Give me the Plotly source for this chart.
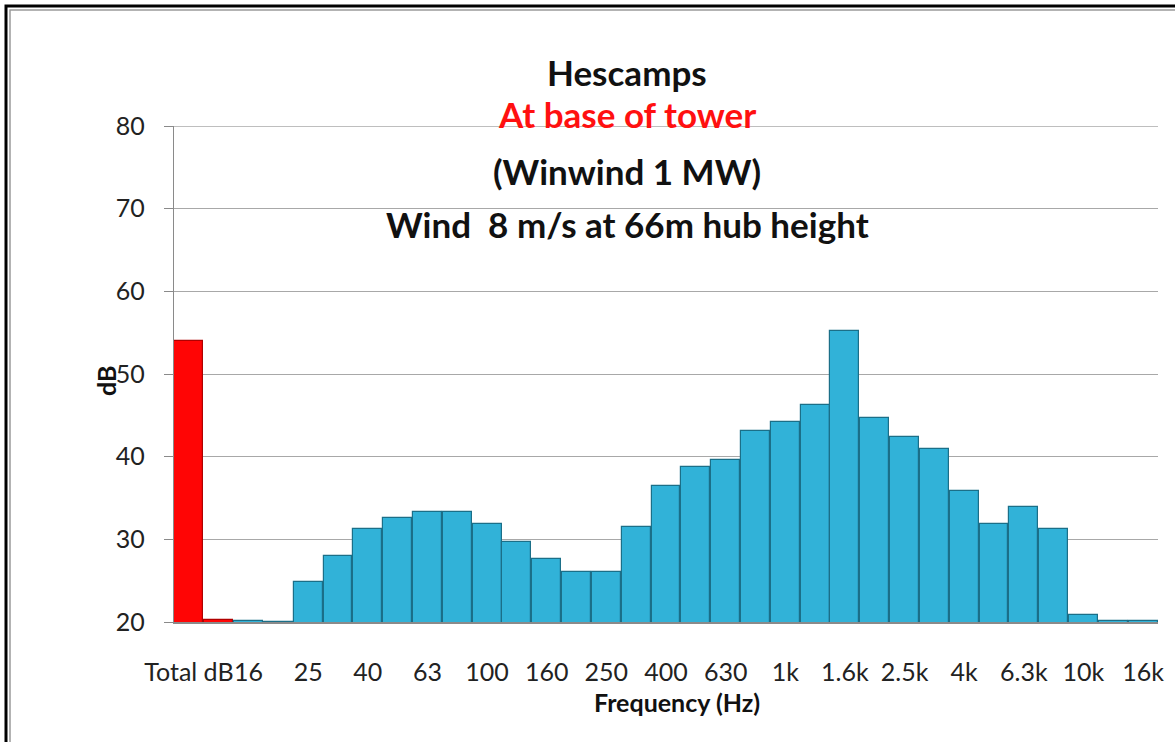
import plotly.graph_objects as go

# ---- data ----
categories = ["Total dB", "12.5", "16", "20", "25", "31.5", "40", "50", "63", "80",
              "100", "125", "160", "200", "250", "315", "400", "500", "630", "800",
              "1k", "1.25k", "1.6k", "2k", "2.5k", "3.15k", "4k", "5k", "6.3k", "8k",
              "10k", "12.5k", "16k"]
levels_db = [54.0, 20.2, 20.15, 20.0, 24.8, 28.0, 31.2, 32.6, 33.3, 33.3,
             31.85, 29.7, 27.6, 26.0, 26.0, 31.5, 36.4, 38.8, 39.6, 43.1,
             44.2, 46.25, 55.2, 44.7, 42.4, 40.9, 35.8, 31.85, 33.95, 31.2,
             20.8, 20.1, 20.1]
tick_labels = categories[::2]
title_lines = ["Hescamps", "At base of tower", "(Winwind 1 MW)", "Wind \u00a08 m/s at 66m hub height"]
x_title = "Frequency (Hz)"
y_title = "dB"
y_range = [20, 80]
y_ticks = [20, 30, 40, 50, 60, 70, 80]

# ---- styles ----
W, H = 1175, 742
L, R, T, B = 174, 1158, 126, 622   # plot area in px
pw, ph = R - L, B - T
red, red_edge = "#FF0505", "#B00000"
blue, blue_edge = "#31B2D8", "#1B6F88"
grid_color = "#A8A8A8"
bar_colors = [red if i < 2 else blue for i in range(len(categories))]
edge_colors = [red_edge if i < 2 else blue_edge for i in range(len(categories))]

def px_x(px):
    return (px - L) / pw

def px_y(py):
    return (B - py) / ph

fig = go.Figure(go.Bar(
    x=categories, y=levels_db,
    marker=dict(color=bar_colors, line=dict(color=edge_colors, width=1.2)),
    width=0.97,
))

font_main = "Lato, 'Open Sans', sans-serif"
title_y = [72, 114, 171, 224]
title_colors = ["#111111", "#FF1010", "#111111", "#111111"]
annotations = []
for txt, py, col in zip(title_lines, title_y, title_colors):
    annotations.append(dict(text=f"<b>{txt}</b>", x=px_x(627), y=px_y(py), xref="paper", yref="paper",
                            xanchor="center", yanchor="middle", showarrow=False,
                            font=dict(family=font_main, size=35, color=col)))
annotations.append(dict(text=f"<b>{x_title}</b>", x=px_x(677), y=px_y(702), xref="paper", yref="paper",
                        xanchor="center", yanchor="middle", showarrow=False,
                        font=dict(family=font_main, size=25, color="#111111")))
annotations.append(dict(text=f"<b>{y_title}</b>", x=px_x(106), y=px_y(381), xref="paper", yref="paper",
                        xanchor="center", yanchor="middle", showarrow=False, textangle=-90,
                        font=dict(family=font_main, size=25, color="#111111")))

def frame_path(px_left, px_top):
    # left and top edges only (the right and bottom edges are outside the picture)
    return (f"M {px_x(px_left)},{px_y(H + 20)} L {px_x(px_left)},{px_y(px_top)} "
            f"L {px_x(W + 20)},{px_y(px_top)}")

shapes = [
    # top gridline at the range edge (plotly hides the edge gridline)
    dict(type="line", xref="paper", yref="y", x0=0, x1=1, y0=y_range[1], y1=y_range[1],
         line=dict(color=grid_color, width=1.3), layer="below"),
    # outer frame (black) and inner gray line
    dict(type="path", xref="paper", yref="paper", path=frame_path(6, 6),
         line=dict(color="#000000", width=3), layer="above"),
    dict(type="path", xref="paper", yref="paper", path=frame_path(10, 10),
         line=dict(color="#9A9A9A", width=1.5), layer="above"),
]

fig.update_layout(
    width=W, height=H,
    margin=dict(l=L, r=W - R, t=T, b=H - B, pad=0),
    paper_bgcolor="white", plot_bgcolor="white",
    showlegend=False, bargap=0,
    font=dict(family=font_main, size=25, color="#222222"),
    annotations=annotations, shapes=shapes,
    xaxis=dict(type="category", categoryorder="array", categoryarray=categories,
               tickmode="array", tickvals=tick_labels, ticktext=tick_labels,
               tickangle=0, showgrid=False, showline=True, linecolor="#8A8A8A", linewidth=1.5,
               ticks="", ticklabelstandoff=27, tickfont=dict(size=25, color="#222222"),
               range=[-0.5, len(categories) - 0.5], fixedrange=True),
    yaxis=dict(range=y_range, tickmode="array", tickvals=y_ticks,
               showgrid=True, gridcolor=grid_color, gridwidth=1.3,
               showline=True, linecolor="#8A8A8A", linewidth=1.3, zeroline=False,
               ticks="outside", ticklen=9, tickcolor="#8A8A8A", ticklabelstandoff=14,
               tickfont=dict(size=25, color="#222222"), fixedrange=True),
)

fig.write_html("out.html", config={"displayModeBar": False},
               post_script="document.body.style.margin='0px';document.body.style.overflow='hidden';")
